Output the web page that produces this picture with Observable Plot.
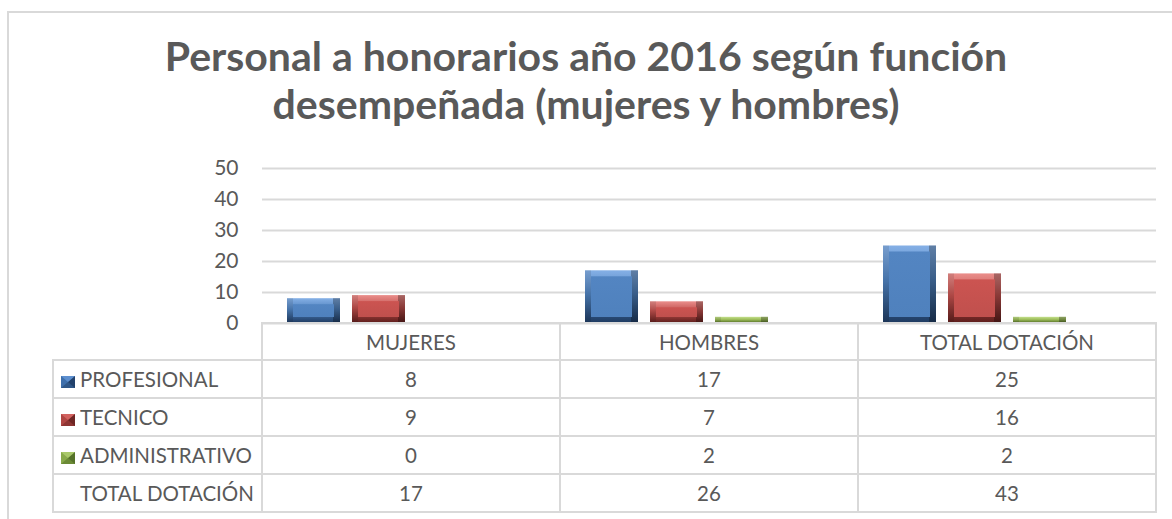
<!DOCTYPE html>
<html>
<head>
<meta charset="utf-8">
<script src="https://cdn.jsdelivr.net/npm/d3@7"></script>
<script src="https://cdn.jsdelivr.net/npm/@observablehq/plot@0.6"></script>
<style>
html, body { margin: 0; padding: 0; background: #fff; width: 1172px; height: 519px; overflow: hidden;
  font-family: Lato, "Open Sans", sans-serif; color: #595959; }
#frame { position: absolute; left: 7px; top: 11px; width: 1200px; height: 600px; border: 2px solid #d9d9d9; box-sizing: border-box; }
#title { position: absolute; left: 0; top: 32px; width: 1172px; text-align: center; font-weight: bold;
  font-size: 41px; line-height: 48px; color: #595959; }
#chart { position: absolute; left: 0; top: 140px; }
#tbl { position: absolute; left: 52px; top: 322px; border-collapse: collapse; table-layout: fixed; font-size: 20.5px; color: #595959; }
#tbl td { border: 2px solid #d9d9d9; padding: 0; text-align: center; white-space: nowrap; }
#tbl tr { height: 38px; }
#tbl tr.head { height: 37px; }
#tbl td.empty { border: none; }
#tbl td.lab { text-align: left; padding-left: 7px; }
.key { display: inline-block; width: 0; height: 0; border-style: solid; border-width: 6px 7px 6px 7px; vertical-align: -1px; margin-right: 5px; }
</style>
</head>
<body>
<div id="frame"></div>
<div id="title"></div>
<svg width="0" height="0" style="position:absolute"><defs id="defs"></defs></svg>
<div id="chart"></div>
<table id="tbl"></table>
<script>
// ---- data ----
const titleLines = ["Personal a honorarios año 2016 según función", "desempeñada (mujeres y hombres)"];
const categories = ["MUJERES", "HOMBRES", "TOTAL DOTACIÓN"];
const series = ["PROFESIONAL", "TECNICO", "ADMINISTRATIVO"];
const profesional = [8, 17, 25];
const tecnico = [9, 7, 16];
const administrativo = [0, 2, 2];
const totalLabel = "TOTAL DOTACIÓN";
const totalDotacion = [17, 26, 43];
const yTicks = [0, 10, 20, 30, 40, 50];

// ---- styles ----
const palette = [
  {light: "#85b0e6", mid: "#4f81bd", face: "#5385c2", dark: "#1e3a60", iconT: "#5d8fcf", iconL: "#3e6fab", iconR: "#22416b", iconB: "#2f5788"},
  {light: "#ea8e8b", mid: "#c0504d", face: "#cc5451", dark: "#5c1d1b", iconT: "#d2625f", iconL: "#b04643", iconR: "#6e2624", iconB: "#8e3533"},
  {light: "#c4e08c", mid: "#9bbb59", face: "#9dbd5b", dark: "#4c6620", iconT: "#a9c86a", iconL: "#88a94a", iconR: "#55722a", iconB: "#6b8a36"}
];

document.getElementById("title").innerHTML = titleLines.join("<br>");

// gradient defs
const defs = d3.select("#defs");
palette.forEach((p, i) => {
  const g = defs.append("linearGradient").attr("id", "base" + i).attr("x1", 0).attr("y1", 0).attr("x2", 0).attr("y2", 1);
  g.append("stop").attr("offset", "0%").attr("stop-color", p.light);
  g.append("stop").attr("offset", "45%").attr("stop-color", p.mid);
  g.append("stop").attr("offset", "100%").attr("stop-color", p.dark);
  const f = defs.append("linearGradient").attr("id", "face" + i).attr("x1", 0).attr("y1", 0).attr("x2", 0).attr("y2", 1);
  f.append("stop").attr("offset", "0%").attr("stop-color", p.face);
  f.append("stop").attr("offset", "100%").attr("stop-color", p.mid);
});

const values = [profesional, tecnico, administrativo];
const data = series.flatMap((s, i) => categories.map((c, j) => ({category: c, series: s, value: values[i][j]})));

const common = {fx: "category", x: "series", y: "value"};
const mL = 262;

const chart = Plot.plot({
  width: 1172,
  height: 190,
  marginLeft: mL,
  marginRight: 16,
  marginTop: 28,
  marginBottom: 7,
  style: {fontFamily: "Lato, sans-serif", fontSize: "21px", color: "#595959", background: "transparent", overflow: "visible"},
  fx: {domain: categories, padding: 0, axis: null},
  x: {domain: series, range: [mL + 25, mL + 208], paddingInner: 0.185, paddingOuter: 0, axis: null},
  y: {domain: [0, 50]},
  marks: [
    Plot.ruleY(yTicks, {stroke: "#d9d9d9", strokeWidth: 2}),
    Plot.axisY({ticks: yTicks, tickSize: 0, tickPadding: 24, fontSize: 21, fill: "#595959", label: null}),
    ...series.map((s, i) => Plot.barY(data, {...common, filter: d => d.series === s, fill: `url(#base${i})`})),
    Plot.barY(data, {...common, insetLeft: 46, fill: "#000", fillOpacity: 0.28}),
    Plot.barY(data, {...common, insetRight: 47, fill: "#000", fillOpacity: 0.1}),
    ...series.map((s, i) => Plot.barY(data, {...common, filter: d => d.series === s && d.value >= 5,
      insetTop: 6, insetBottom: 6, insetLeft: 6, insetRight: 6, fill: `url(#face${i})`}))
  ]
});
document.getElementById("chart").appendChild(chart);

// ---- data table ----
const tbl = d3.select("#tbl");
const cg = tbl.append("colgroup");
cg.append("col").style("width", "209px");
categories.forEach(() => cg.append("col").style("width", "298px"));
const head = tbl.append("tr").attr("class", "head");
head.append("td").attr("class", "empty");
categories.forEach(c => head.append("td").text(c));
series.forEach((s, i) => {
  const tr = tbl.append("tr");
  const p = palette[i];
  const lab = tr.append("td").attr("class", "lab");
  lab.append("span").attr("class", "key")
    .style("border-color", `${p.iconT} ${p.iconR} ${p.iconB} ${p.iconL}`);
  lab.append("span").text(s);
  values[i].forEach(v => tr.append("td").text(v));
});
const tt = tbl.append("tr");
const tl = tt.append("td").attr("class", "lab");
tl.append("span").attr("class", "key").style("border-color", "transparent");
tl.append("span").text(totalLabel);
totalDotacion.forEach(v => tt.append("td").text(v));
</script>
</body>
</html>
